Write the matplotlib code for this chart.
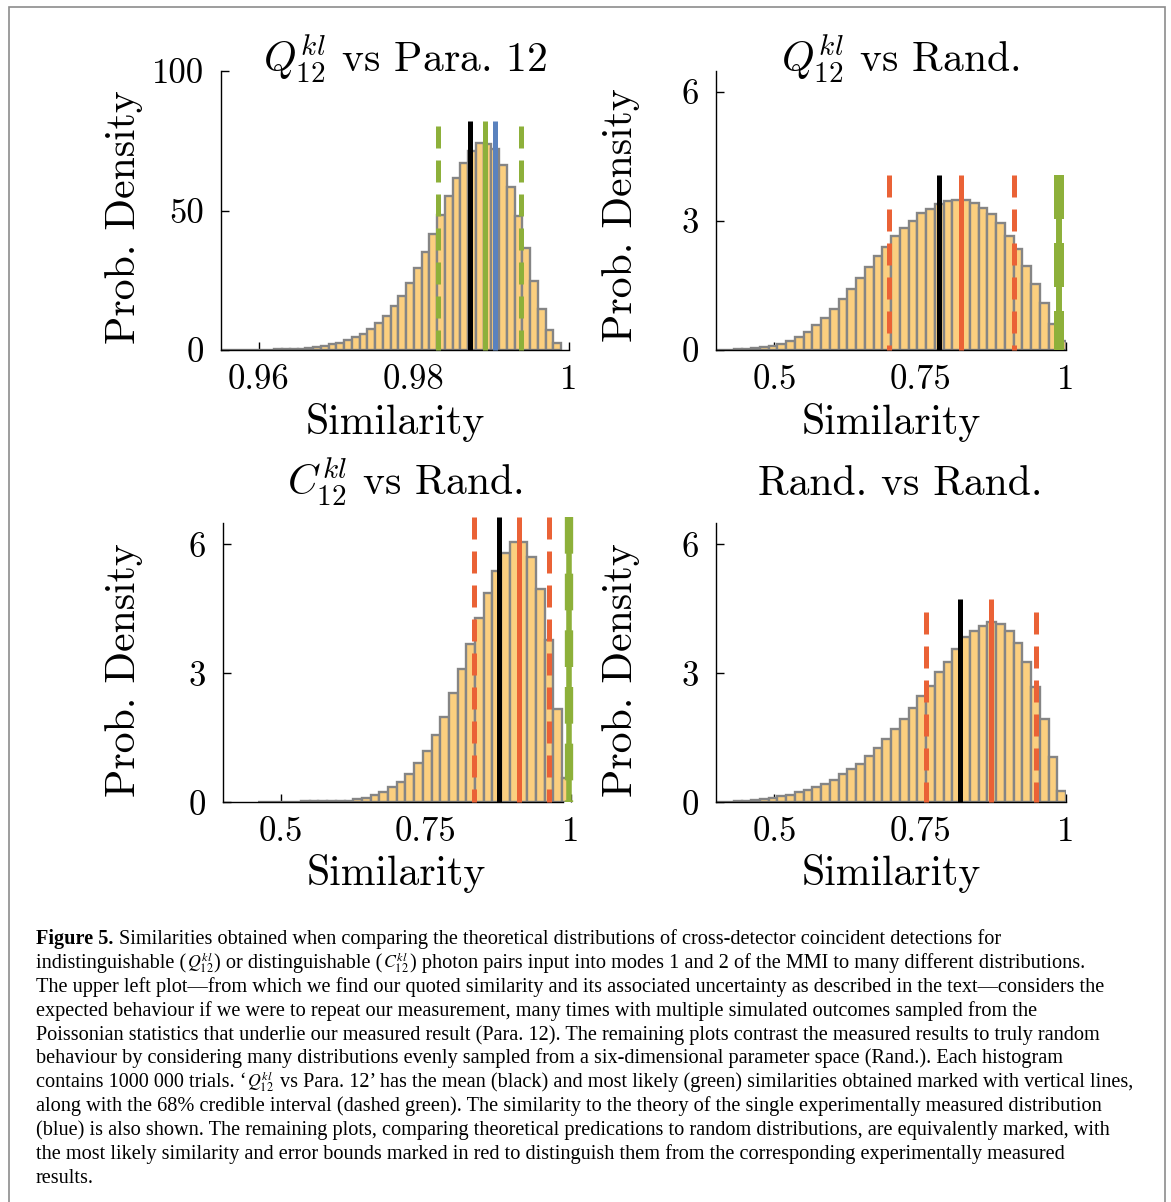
import matplotlib
matplotlib.use('Agg')
import matplotlib.pyplot as plt
import numpy as np
from matplotlib.patches import Rectangle

plt.rcParams['font.family'] = ['cmr10']
plt.rcParams['mathtext.fontset'] = 'cm'
plt.rcParams['axes.unicode_minus'] = False
plt.rcParams['axes.formatter.use_mathtext'] = True

# ---------------- data ----------------
titles = [r"$Q_{12}^{kl}$ vs Para. 12", r"$Q_{12}^{kl}$ vs Rand.",
          r"$C_{12}^{kl}$ vs Rand.", "Rand. vs Rand."]
xlabel_text = "Similarity"
ylabel_text = "Prob. Density"

# panel 1: Q vs Para. 12
p1_bin_start = 0.955
p1_bin_width = 0.001
p1_density = [0.01, 0.01, 0.02, 0.03, 0.05, 0.08, 0.12, 0.18, 0.25, 0.35,
              0.5, 0.7, 1.0, 1.4, 2.0, 2.6, 3.6, 4.5, 5.7, 7.4,
              9.6, 12.3, 15.8, 19.4, 24.1, 29.3, 35.0, 41.6, 48.4, 55.2,
              61.5, 66.9, 71.3, 74.3, 73.8, 71.9, 66.2, 58.3, 48.0, 36.4,
              24.7, 14.7, 7.2, 2.4]
p1_xticks = [0.96, 0.98, 1.0]
p1_xticklabels = ["0.96", "0.98", "1"]
p1_yticks = [0, 50, 100]
p1_yticklabels = ["0", "50", "100"]
p1_mean = 0.9872
p1_mode = 0.9891
p1_measured = 0.9904
p1_interval = [0.9831, 0.9938]

# panel 2: Q vs Rand.
p2_bin_start = 0.4
p2_bin_width = 0.015
p2_density = [0.01, 0.01, 0.015, 0.03, 0.05, 0.07, 0.10, 0.15, 0.22, 0.31,
              0.43, 0.57, 0.74, 0.95, 1.18, 1.42, 1.67, 1.94, 2.19, 2.40,
              2.64, 2.84, 3.00, 3.18, 3.28, 3.40, 3.47, 3.50, 3.50, 3.43,
              3.31, 3.16, 2.95, 2.66, 2.36, 1.96, 1.53, 1.09, 0.60, 0.20]
p2_mean = 0.783
p2_mode = 0.8197
p2_interval = [0.697, 0.9115]
p2_measured = 0.9886

# panel 3: C vs Rand.
p3_bin_start = 0.46
p3_bin_width = 0.015
p3_density = [0.01, 0.01, 0.01, 0.01, 0.015, 0.02, 0.02, 0.025, 0.03, 0.03,
              0.04, 0.07, 0.11, 0.16, 0.25, 0.35, 0.47, 0.66, 0.91, 1.20,
              1.57, 1.99, 2.53, 3.10, 3.68, 4.28, 4.86, 5.38, 5.79, 6.04,
              6.04, 5.70, 4.95, 3.77, 2.16, 0.56]
p3_mean = 0.8764
p3_mode = 0.911
p3_interval = [0.833, 0.9626]
p3_measured = 0.9967

# panel 4: Rand. vs Rand.
p4_bin_start = 0.4
p4_bin_width = 0.015
p4_density = [0.01, 0.015, 0.02, 0.03, 0.05, 0.08, 0.10, 0.14, 0.18, 0.23,
              0.29, 0.35, 0.43, 0.51, 0.65, 0.77, 0.89, 1.08, 1.26, 1.47,
              1.70, 1.93, 2.19, 2.46, 2.71, 3.02, 3.26, 3.57, 3.84, 3.99,
              4.11, 4.18, 4.14, 3.99, 3.70, 3.26, 2.69, 1.94, 1.06, 0.27]
p4_mean = 0.8185
p4_mode = 0.871
p4_interval = [0.7597, 0.9486]

rand_xticks = [0.5, 0.75, 1.0]
rand_xticklabels = ["0.5", "0.75", "1"]
rand_yticks = [0, 3, 6]
rand_yticklabels = ["0", "3", "6"]

# caption: each line is a list of (text, kind); kind: 'b' bold, 'n' normal, 'm' math
caption_lines = [
    [("Figure 5.", 'b'), ("Similarities obtained when comparing the theoretical distributions of cross-detector coincident detections for", 'n')],
    [("indistinguishable (", 'n'), (r"$Q_{12}^{kl}$", 'm'), (") or distinguishable (", 'n'), (r"$C_{12}^{kl}$", 'm'),
     (") photon pairs input into modes 1 and 2 of the MMI to many different distributions.", 'n')],
    [("The upper left plot\u2014from which we find our quoted similarity and its associated uncertainty as described in the text\u2014considers the", 'n')],
    [("expected behaviour if we were to repeat our measurement, many times with multiple simulated outcomes sampled from the", 'n')],
    [("Poissonian statistics that underlie our measured result (Para. 12). The remaining plots contrast the measured results to truly random", 'n')],
    [("behaviour by considering many distributions evenly sampled from a six-dimensional parameter space (Rand.). Each histogram", 'n')],
    [("contains 1000 000 trials. \u2018", 'n'), (r"$Q_{12}^{kl}$", 'm'),
     ("vs Para. 12\u2019 has the mean (black) and most likely (green) similarities obtained marked with vertical lines,", 'n')],
    [("along with the 68% credible interval (dashed green). The similarity to the theory of the single experimentally measured distribution", 'n')],
    [("(blue) is also shown. The remaining plots, comparing theoretical predications to random distributions, are equivalently marked, with", 'n')],
    [("the most likely similarity and error bounds marked in red to distinguish them from the corresponding experimentally measured", 'n')],
    [("results.", 'n')],
]

# ---------------- style ----------------
FILL = '#FBCF7F'
EDGE = '#858585'
GREEN = '#8DB03A'
RED = '#EA6236'
BLUE = '#5A82BE'
BLACK = '#000000'

W, H = 1171, 1202
fig = plt.figure(figsize=(W / 100, H / 100), dpi=100)


def add_ax(x0, x1, ytop, ybot):
    return fig.add_axes([x0 / W, 1 - ybot / H, (x1 - x0) / W, (ybot - ytop) / H])


def style_ax(ax, xlim, ylim, xticks, xtl, yticks, ytl):
    ax.set_xlim(*xlim)
    ax.set_ylim(*ylim)
    for s in ['top', 'right']:
        ax.spines[s].set_visible(False)
    for s in ['left', 'bottom']:
        ax.spines[s].set_linewidth(1.0)
        ax.spines[s].set_color('black')
    ax.set_xticks(xticks)
    ax.set_xticklabels(xtl)
    ax.set_yticks(yticks)
    ax.set_yticklabels(ytl)
    ax.tick_params(direction='in', length=6, width=1.0, labelsize=25)
    ax.tick_params(axis='x', pad=10)
    ax.tick_params(axis='y', pad=12)
    ax.patch.set_alpha(0)


def draw_hist(ax, start, bw, dens):
    edges = start + bw * np.arange(len(dens))
    ax.bar(edges, dens, width=bw, align='edge', color=FILL, edgecolor=EDGE,
           linewidth=1.7, zorder=2)


def vline(ax, x, top, color, lw=3.6, dashed=False, zorder=3):
    kw = dict(color=color, lw=lw, solid_capstyle='butt', dash_capstyle='butt',
              zorder=zorder, clip_on=False)
    if dashed:
        ax.plot([x, x], [top, 0], dashes=(4.4, 2.4), **kw)
    else:
        ax.plot([x, x], [0, top], **kw)


# panel 1
ax1 = add_ax(221, 569, 71, 350)
draw_hist(ax1, p1_bin_start, p1_bin_width, p1_density)
style_ax(ax1, (0.9551, 1.0), (0, 100), p1_xticks, p1_xticklabels, p1_yticks, p1_yticklabels)
for xv in p1_interval:
    vline(ax1, xv, 80.3, GREEN, dashed=True)
vline(ax1, p1_mean, 82, BLACK)
vline(ax1, p1_mode, 82, GREEN)
vline(ax1, p1_measured, 82, BLUE)

# panel 2
ax2 = add_ax(716, 1066, 70.5, 350)
draw_hist(ax2, p2_bin_start, p2_bin_width, p2_density)
style_ax(ax2, (0.4, 1.0), (0, 6.5), rand_xticks, rand_xticklabels, rand_yticks, rand_yticklabels)
for xv in p2_interval:
    vline(ax2, xv, 4.07, RED, dashed=True)
vline(ax2, p2_mean, 4.07, BLACK)
vline(ax2, p2_mode, 4.07, RED)
vline(ax2, p2_measured, 4.07, GREEN, lw=4.3)
vline(ax2, p2_measured, 4.07, GREEN, lw=7.2, dashed=True)

# panel 3
ax3 = add_ax(222.7, 570.7, 522.7, 802.3)
draw_hist(ax3, p3_bin_start, p3_bin_width, p3_density)
style_ax(ax3, (0.4, 1.0), (0, 6.5), rand_xticks, rand_xticklabels, rand_yticks, rand_yticklabels)
ax3.spines['bottom'].set_bounds(0.4, 0.986)
for xv in p3_interval:
    vline(ax3, xv, 6.64, RED, dashed=True)
vline(ax3, p3_mean, 6.64, BLACK)
vline(ax3, p3_mode, 6.64, RED)
vline(ax3, p3_measured, 6.64, GREEN, lw=4.0)
vline(ax3, p3_measured, 6.64, GREEN, lw=6.0, dashed=True)

# panel 4
ax4 = add_ax(716, 1066, 522.7, 802.3)
draw_hist(ax4, p4_bin_start, p4_bin_width, p4_density)
style_ax(ax4, (0.4, 1.0), (0, 6.5), rand_xticks, rand_xticklabels, rand_yticks, rand_yticklabels)
for xv in p4_interval:
    vline(ax4, xv, 4.42, RED, dashed=True)
vline(ax4, p4_mean, 4.73, BLACK)
vline(ax4, p4_mode, 4.73, RED)

# titles, axis labels (pixel placement)
def ftext(xp, yp, s, **kw):
    return fig.text(xp / W, 1 - yp / H, s, **kw)

title_pos = [(405, 72), (900, 72), (405, 495), (900, 495)]
for t, (xp, yp) in zip(titles, title_pos):
    ftext(xp, yp, t, ha='center', va='baseline', fontsize=30)

for xp, yp in [(395, 434), (891, 434), (396, 885), (891, 885)]:
    ftext(xp, yp, xlabel_text, ha='center', va='baseline', fontsize=30)

for xp, yp in [(124, 217), (621, 215), (124, 670), (621, 670)]:
    ftext(xp, yp, ylabel_text, ha='center', va='center', rotation=90, fontsize=30)

# caption, drawn segment by segment
renderer = fig.canvas.get_renderer()
CAP_FS = 14.6
seg_style = {
    'n': dict(fontsize=CAP_FS, family='Liberation Serif'),
    'b': dict(fontsize=CAP_FS, family='Liberation Serif', fontweight='bold'),
    'm': dict(fontsize=12.8, family='Liberation Serif', math_fontfamily='stix'),
}
for i, segs in enumerate(caption_lines):
    yp = 944 + 23.9 * i
    xcur = 36.0
    for j, (s, kind) in enumerate(segs):
        t = ftext(xcur, yp, s, ha='left', va='baseline', **seg_style[kind])
        bb = t.get_window_extent(renderer)
        xcur = bb.x1
        nxt = segs[j + 1][0] if j + 1 < len(segs) else ''
        if kind == 'b' or (kind == 'm' and nxt[:1].isalpha()):
            xcur += 5.5
        else:
            xcur += 0.6

# frame (bottom edge lies below the picture)
fig.patches.append(Rectangle((9 / W, 1 - 1210 / H), (1165 - 9) / W, (1210 - 7) / H,
                             transform=fig.transFigure, fill=False,
                             edgecolor='#8C8C8C', linewidth=1.2))

fig.savefig('out.png', dpi=100)
